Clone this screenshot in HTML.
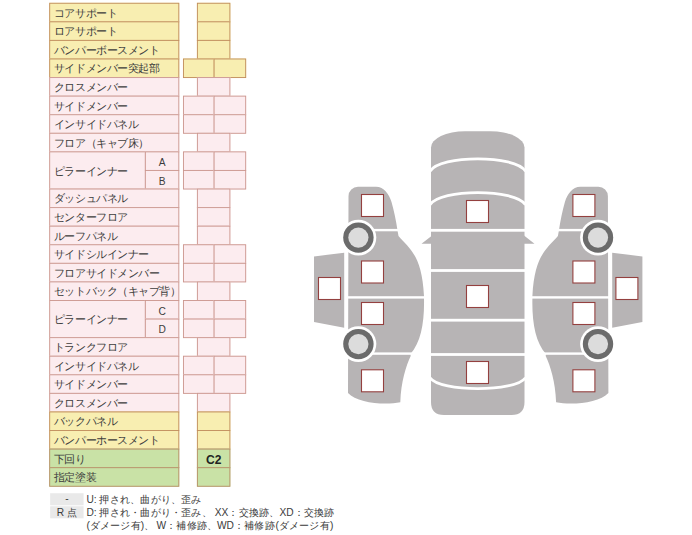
<!DOCTYPE html>
<html lang="ja"><head><meta charset="utf-8"><style>
html,body{margin:0;padding:0;background:#fff;width:692px;height:535px;overflow:hidden}
#wrap{position:absolute;left:0.4px;top:0.4px;width:745px;height:576px;transform:scale(0.92886);transform-origin:0 0;font-family:"Liberation Sans",sans-serif;color:#3c3c3c}
.c{position:absolute;box-sizing:border-box;border:1px solid #d9a46c;font-size:12px;line-height:19px}
.y{background:#f8eeb1;border-color:#c18e5e}
.p{background:#fcecef;border-color:#cc9890}
.g{background:#c9e2a6;border-color:#b89068}
.lb{padding-left:4px;padding-top:1px;letter-spacing:-0.65px;white-space:nowrap;display:flex;align-items:center}
.sb{text-align:center;font-size:11px;line-height:22px}
.rs{text-align:center;font-weight:bold;font-size:13px;color:#222;line-height:21px}
.leg{position:absolute;font-size:11px;line-height:14px;white-space:nowrap;color:#3a3a3a}
.gb{position:absolute;background:#e9e9e9;text-align:center;font-size:11px;line-height:13px}
svg{position:absolute;left:0;top:0}
</style></head><body>
<div id="wrap">
<div class="c y lb" style="left:53px;top:3px;width:140px;height:21px">コアサポート</div>
<div class="c y rs" style="left:212px;top:3px;width:36px;height:21px"></div>
<div class="c y lb" style="left:53px;top:23px;width:140px;height:21px">ロアサポート</div>
<div class="c y rs" style="left:212px;top:23px;width:36px;height:21px"></div>
<div class="c y lb" style="left:53px;top:43px;width:140px;height:21px">バンパーボースメント</div>
<div class="c y rs" style="left:212px;top:43px;width:36px;height:21px"></div>
<div class="c y lb" style="left:53px;top:63px;width:140px;height:21px">サイドメンバー突起部</div>
<div class="c y" style="left:197px;top:63px;width:34px;height:21px"></div>
<div class="c y" style="left:230px;top:63px;width:35px;height:21px"></div>
<div class="c p lb" style="left:53px;top:83px;width:140px;height:21px">クロスメンバー</div>
<div class="c p rs" style="left:212px;top:83px;width:36px;height:21px"></div>
<div class="c p lb" style="left:53px;top:103px;width:140px;height:21px">サイドメンバー</div>
<div class="c p" style="left:197px;top:103px;width:34px;height:21px"></div>
<div class="c p" style="left:230px;top:103px;width:35px;height:21px"></div>
<div class="c p lb" style="left:53px;top:123px;width:140px;height:21px">インサイドパネル</div>
<div class="c p" style="left:197px;top:123px;width:34px;height:21px"></div>
<div class="c p" style="left:230px;top:123px;width:35px;height:21px"></div>
<div class="c p lb" style="left:53px;top:143px;width:140px;height:21px">フロア（キャブ床）</div>
<div class="c p rs" style="left:212px;top:143px;width:36px;height:21px"></div>
<div class="c p lb" style="left:53px;top:163px;width:104px;height:41px">ピラーインナー</div>
<div class="c p sb" style="left:156px;top:163px;width:37px;height:21px">A</div>
<div class="c p" style="left:197px;top:163px;width:34px;height:21px"></div>
<div class="c p" style="left:230px;top:163px;width:35px;height:21px"></div>
<div class="c p sb" style="left:156px;top:183px;width:37px;height:21px">B</div>
<div class="c p" style="left:197px;top:183px;width:34px;height:21px"></div>
<div class="c p" style="left:230px;top:183px;width:35px;height:21px"></div>
<div class="c p lb" style="left:53px;top:203px;width:140px;height:21px">ダッシュパネル</div>
<div class="c p rs" style="left:212px;top:203px;width:36px;height:21px"></div>
<div class="c p lb" style="left:53px;top:223px;width:140px;height:21px">センターフロア</div>
<div class="c p rs" style="left:212px;top:223px;width:36px;height:21px"></div>
<div class="c p lb" style="left:53px;top:243px;width:140px;height:21px">ルーフパネル</div>
<div class="c p rs" style="left:212px;top:243px;width:36px;height:21px"></div>
<div class="c p lb" style="left:53px;top:263px;width:140px;height:21px">サイドシルインナー</div>
<div class="c p" style="left:197px;top:263px;width:34px;height:21px"></div>
<div class="c p" style="left:230px;top:263px;width:35px;height:21px"></div>
<div class="c p lb" style="left:53px;top:283px;width:140px;height:21px">フロアサイドメンバー</div>
<div class="c p" style="left:197px;top:283px;width:34px;height:21px"></div>
<div class="c p" style="left:230px;top:283px;width:35px;height:21px"></div>
<div class="c p lb" style="left:53px;top:303px;width:140px;height:21px">セットバック（キャブ背）</div>
<div class="c p rs" style="left:212px;top:303px;width:36px;height:21px"></div>
<div class="c p lb" style="left:53px;top:323px;width:104px;height:41px">ピラーインナー</div>
<div class="c p sb" style="left:156px;top:323px;width:37px;height:21px">C</div>
<div class="c p" style="left:197px;top:323px;width:34px;height:21px"></div>
<div class="c p" style="left:230px;top:323px;width:35px;height:21px"></div>
<div class="c p sb" style="left:156px;top:343px;width:37px;height:21px">D</div>
<div class="c p" style="left:197px;top:343px;width:34px;height:21px"></div>
<div class="c p" style="left:230px;top:343px;width:35px;height:21px"></div>
<div class="c p lb" style="left:53px;top:363px;width:140px;height:21px">トランクフロア</div>
<div class="c p rs" style="left:212px;top:363px;width:36px;height:21px"></div>
<div class="c p lb" style="left:53px;top:383px;width:140px;height:21px">インサイドパネル</div>
<div class="c p" style="left:197px;top:383px;width:34px;height:21px"></div>
<div class="c p" style="left:230px;top:383px;width:35px;height:21px"></div>
<div class="c p lb" style="left:53px;top:403px;width:140px;height:21px">サイドメンバー</div>
<div class="c p" style="left:197px;top:403px;width:34px;height:21px"></div>
<div class="c p" style="left:230px;top:403px;width:35px;height:21px"></div>
<div class="c p lb" style="left:53px;top:423px;width:140px;height:21px">クロスメンバー</div>
<div class="c p rs" style="left:212px;top:423px;width:36px;height:21px"></div>
<div class="c y lb" style="left:53px;top:443px;width:140px;height:21px">バックパネル</div>
<div class="c y rs" style="left:212px;top:443px;width:36px;height:21px"></div>
<div class="c y lb" style="left:53px;top:463px;width:140px;height:21px">バンパーホースメント</div>
<div class="c y rs" style="left:212px;top:463px;width:36px;height:21px"></div>
<div class="c g lb" style="left:53px;top:483px;width:140px;height:21px">下回り</div>
<div class="c g rs" style="left:212px;top:483px;width:36px;height:21px">C2</div>
<div class="c g lb" style="left:53px;top:503px;width:140px;height:21px">指定塗装</div>
<div class="c g rs" style="left:212px;top:503px;width:36px;height:21px"></div>
<div class="gb" style="left:54px;top:531px;width:36px;height:13px;line-height:11px">-</div>
<div class="gb" style="left:54px;top:545px;width:36px;height:13px">R 点</div>
<div class="leg" style="left:93px;top:530px">U: 押され、曲がり、歪み</div>
<div class="leg" style="left:93px;top:544px">D: 押され・曲がり・歪み、 XX：交換跡、XD：交換跡</div>
<div class="leg" style="left:93px;top:558px">(ダメージ有)、</div><div class="leg" style="left:168.5px;top:558px">W：補修跡、</div><div class="leg" style="left:233.6px;top:558px">WD：補修跡</div><div class="leg" style="left:296.5px;top:558px">(ダメージ有)</div>
</div>
<svg width="692" height="535" viewBox="0 0 692 535">
<defs>
<g id="side">
<path fill="#b7b4b5" d="M348.5,196.2 A9.5,9.5 0 0 1 358,186.7 L376,186.7 C384,186.7 389,194 391.5,202 C394,211 396,220 397.5,230.5 L398.5,236 C410,249 422,256 424,296 L424,299 C424.5,322 421,342 410.5,354 L410.7,356 C406,366 401,382 400.3,402.2 C385,405.5 357,403 348,393 Z"/>
<path fill="#b7b4b5" d="M314,256.4 L344.2,252.7 L344.2,327.7 L314,322 Z"/>
<rect x="345" y="228.9" width="58" height="2.4" fill="#fff"/>
<rect x="345" y="296.2" width="82" height="2.4" fill="#fff"/>
<rect x="345" y="352.4" width="70" height="2.4" fill="#fff"/>
<g>
<circle cx="358.4" cy="237.6" r="17.9" fill="#fff"/>
<circle cx="358.4" cy="237.6" r="15.2" fill="#6b6b6b"/>
<circle cx="358.4" cy="237.6" r="10.1" fill="#dcdcdc"/>
<circle cx="358.4" cy="344.1" r="17.9" fill="#fff"/>
<circle cx="358.4" cy="344.1" r="15.2" fill="#6b6b6b"/>
<circle cx="358.4" cy="344.1" r="10.1" fill="#dcdcdc"/>
</g>
<g fill="#fff" stroke="#94403f" stroke-width="1.1">
<rect x="361.5" y="194.5" width="22" height="22"/>
<rect x="361.5" y="261" width="22" height="22"/>
<rect x="318.5" y="277.5" width="22" height="22"/>
<rect x="361.5" y="302.5" width="22" height="22"/>
<rect x="361.5" y="369.8" width="22" height="22"/>
</g>
</g>
</defs>
<use href="#side"/>
<use href="#side" transform="translate(956.4,0) scale(-1,1)"/>
<path fill="#b7b4b5" d="M431,147.4 A34,16.2 0 0 1 465,131.2 L490.5,131.2 A34,16.2 0 0 1 524.5,147.4 L524.5,402 Q524.5,415 511.5,415 L444,415 Q431,415 431,402 Z"/>
<path fill="#b7b4b5" d="M431.5,236 L421.5,243.7 L431.5,243.7 Z M524,235.5 L534.5,243.7 L524,243.7 Z"/>
<g fill="none" stroke="#fff" stroke-width="2.8">
<path d="M430,171.3 C440,154.7 515.5,154.7 525.5,171.3"/>
<path d="M430,204.8 C440,188.6 515.5,188.6 525.5,204.8"/>
<path d="M430,377.7 C440,392.3 515.5,392.3 525.5,377.7"/>
</g>
<g fill="#fff">
<rect x="429" y="228.9" width="98" height="2.8"/>
<rect x="429" y="269.1" width="98" height="2.8"/>
<rect x="429" y="318.8" width="98" height="2.8"/>
<rect x="429" y="353.1" width="98" height="2.8"/>
</g>
<g fill="#fff" stroke="#94403f" stroke-width="1.1">
<rect x="466.5" y="200.5" width="22" height="22"/>
<rect x="466.5" y="285.5" width="22" height="22"/>
<rect x="466.5" y="361.5" width="22" height="22"/>
</g>
</svg>

</body></html>
